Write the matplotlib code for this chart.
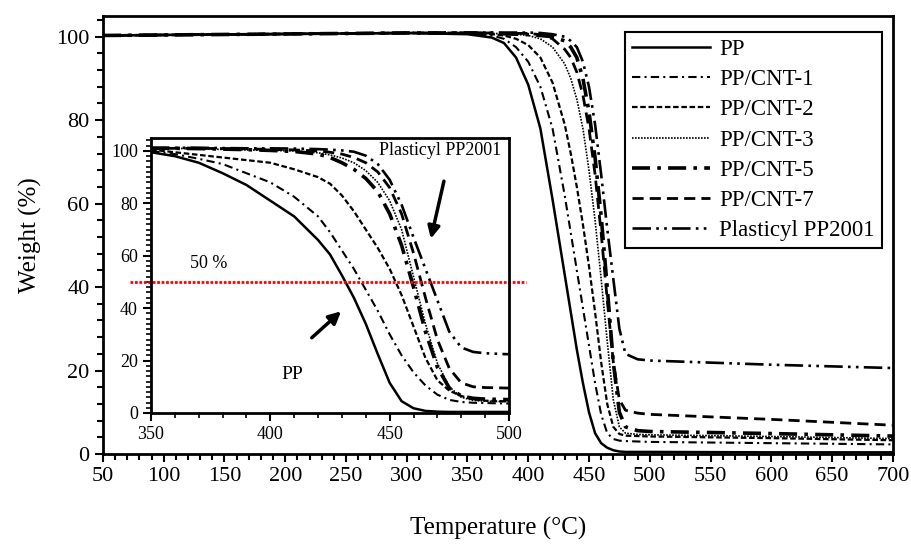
import matplotlib
matplotlib.use("Agg")
import matplotlib.pyplot as plt
from matplotlib.ticker import MultipleLocator

plt.rcParams['font.family'] = ['Liberation Serif', 'DejaVu Serif']

# main plot, full temperature range
t_main = [50, 300, 350, 370, 380, 390, 400, 410, 420, 430, 435, 440, 445, 450,
          455, 460, 465, 470, 475, 480, 490, 500, 600, 700]
w_pp = [100.3, 100.9, 100.6, 99.8, 98.5, 95, 88.5, 78, 61, 43, 34, 25, 17, 10,
        5, 2.6, 1.5, 0.9, 0.6, 0.5, 0.5, 0.5, 0.4, 0.4]
w_cnt1 = [100.3, 100.9, 100.7, 100.3, 99.5, 97.5, 94, 88, 78, 62, 53, 44, 35, 26,
          17, 9.5, 5, 3.6, 3.2, 3.1, 3.0, 2.9, 2.6, 2.3]
w_cnt2 = [100.3, 100.9, 100.8, 100.6, 100.3, 99.5, 98, 95, 89, 79, 72, 64, 55, 45,
          34, 22, 12, 6.5, 4.8, 4.4, 4.3, 4.2, 3.8, 3.3]
w_cnt3 = [100.3, 100.9, 100.9, 100.8, 100.7, 100.6, 100.3, 99.5, 97.5, 93.5, 90, 85, 78, 68,
          56, 42, 27, 13, 6.5, 5, 4.7, 4.6, 4.2, 3.7]
w_cnt5 = [100.3, 100.9, 100.9, 100.8, 100.7, 100.6, 100.5, 100.3, 100, 99, 97.5, 95, 90, 82,
          71, 57, 40, 22, 10, 6.5, 5.6, 5.4, 4.9, 4.3]
w_cnt7 = [100.3, 100.9, 100.9, 100.9, 100.8, 100.8, 100.8, 100.5, 99.5, 97, 95, 91.5, 86, 78,
          67, 53, 37, 22, 13, 10.5, 9.8, 9.5, 8.3, 6.9]
w_plast = [100.3, 100.9, 101, 101, 101, 101, 101, 100.9, 100.6, 100, 99, 97.5, 94, 88,
           79, 67, 54, 42, 30, 24, 22.7, 22.4, 21.4, 20.6]

# inset, 350-500 C
t_in = [350, 360, 370, 380, 390, 400, 410, 420, 425, 430, 435, 440, 445, 450,
        455, 460, 465, 470, 475, 480, 485, 490, 500]
in_pp = [99.5, 98, 95.5, 91.5, 87, 81, 75, 66, 60.5, 52.5, 44, 34, 22.5, 11.5,
         4.5, 1.8, 0.8, 0.5, 0.4, 0.4, 0.4, 0.4, 0.4]
in_cnt1 = [100, 98.8, 97, 95, 91.5, 88, 82.5, 75, 69, 62, 55, 47, 39, 30,
           22, 15.5, 10.5, 7, 5, 4.2, 3.9, 3.8, 3.6]
in_cnt2 = [100.5, 99.5, 98.5, 97.5, 96.5, 95.5, 93, 90, 87.5, 83, 77, 70, 63, 55,
           45, 33, 21, 12.5, 8.5, 6.5, 5.2, 4.7, 4.4]
in_cnt3 = [101, 101, 100.8, 100.6, 100.4, 100.2, 100, 99.3, 98.5, 97.3, 95.5, 92.5, 88, 81,
           70, 52, 34, 19, 10, 6, 4.8, 4.5, 4.3]
in_cnt5 = [101, 101, 100.9, 100.7, 100.5, 100.2, 99.8, 98.8, 97.5, 95.5, 93, 89.5, 84.5, 76,
           64, 48, 31, 17.5, 9.5, 6.5, 5.6, 5.3, 5.1]
in_cnt7 = [101, 101, 101, 100.9, 100.8, 100.6, 100.4, 100, 99.5, 98.8, 97.5, 95.5, 92, 86,
           76, 61, 44, 28, 17, 11.5, 10, 9.7, 9.5]
in_plast = [101.2, 101.2, 101.2, 101.1, 101, 101, 100.9, 100.7, 100.5, 100.2, 99.7, 98.2, 95, 89,
            79.5, 67, 55, 43, 31, 25, 23.3, 22.8, 22.4]

labels = ['PP', 'PP/CNT-1', 'PP/CNT-2', 'PP/CNT-3', 'PP/CNT-5', 'PP/CNT-7', 'Plasticyl PP2001']
styles = [('-', 1.8),
          ((0, (4, 2, 1, 2)), 1.5),
          ((0, (2.5, 1.2)), 1.6),
          ((0, (1, 0.8)), 1.2),
          ((0, (5, 2, 1, 2)), 2.6),
          ((0, (4, 2.2)), 2.0),
          ((0, (7, 2, 1, 2, 1, 2)), 1.9)]

fig = plt.figure(figsize=(9.11, 5.47), dpi=100)
ax = fig.add_axes([0.113, 0.170, 0.867, 0.801])

main_w = [w_pp, w_cnt1, w_cnt2, w_cnt3, w_cnt5, w_cnt7, w_plast]
for w, lab, (ls, lw) in zip(main_w, labels, styles):
    ax.plot(t_main, w, color='black', linestyle=ls, linewidth=lw, label=lab)

ax.set_xlim(50, 700)
ax.set_ylim(0, 105)
ax.xaxis.set_major_locator(MultipleLocator(50))
ax.xaxis.set_minor_locator(MultipleLocator(10))
ax.yaxis.set_major_locator(MultipleLocator(20))
ax.yaxis.set_minor_locator(MultipleLocator(4))
ax.tick_params(which='major', direction='out', length=6, width=1.5, labelsize=16)
ax.tick_params(which='minor', direction='out', length=4, width=1.5)
for s in ax.spines.values():
    s.set_linewidth(2)
ax.set_xlabel('Temperature (°C)', fontsize=18, labelpad=22)
ax.set_ylabel('Weight (%)', fontsize=18, labelpad=10)

leg = ax.legend(loc='upper right', bbox_to_anchor=(0.986, 0.963), fontsize=16.5,
                frameon=True, fancybox=False, edgecolor='black', framealpha=1,
                handlelength=3.4, handletextpad=0.4, labelspacing=0.4,
                borderpad=0.3, borderaxespad=0)
leg.get_frame().set_linewidth(1.5)

# inset
ins = fig.add_axes([0.1658, 0.245, 0.3929, 0.503])
in_w = [in_pp, in_cnt1, in_cnt2, in_cnt3, in_cnt5, in_cnt7, in_plast]
for w, (ls, lw) in zip(in_w, styles):
    ins.plot(t_in, w, color='black', linestyle=ls, linewidth=lw)

ins.set_xlim(350, 500)
ins.set_ylim(0, 105)
ins.xaxis.set_major_locator(MultipleLocator(50))
ins.xaxis.set_minor_locator(MultipleLocator(10))
ins.yaxis.set_major_locator(MultipleLocator(20))
ins.yaxis.set_minor_locator(MultipleLocator(2))
ins.tick_params(which='major', direction='out', length=6, width=1.5, labelsize=13)
ins.tick_params(which='minor', direction='out', length=3.5, width=1.2)
for s in ins.spines.values():
    s.set_linewidth(2)

ins.plot([341, 507], [50, 50], color='red', linestyle=(0, (1, 0.6)), linewidth=2,
         clip_on=False)
ins.text(374, 57, '50 %', fontsize=13, ha='center', va='center')
ins.text(409, 14.5, 'PP', fontsize=14, ha='center', va='center')
ins.text(471, 100, 'Plasticyl PP2001', fontsize=13, ha='center', va='center')
ins.annotate('', xy=(430.5, 39.5), xytext=(416.5, 28),
             arrowprops=dict(arrowstyle='-|>', color='black', lw=2.5, mutation_scale=18))
ins.annotate('', xy=(467, 65.5), xytext=(473, 89.5),
             arrowprops=dict(arrowstyle='-|>', color='black', lw=2.5, mutation_scale=18))

fig.savefig('out.png', dpi=100)
